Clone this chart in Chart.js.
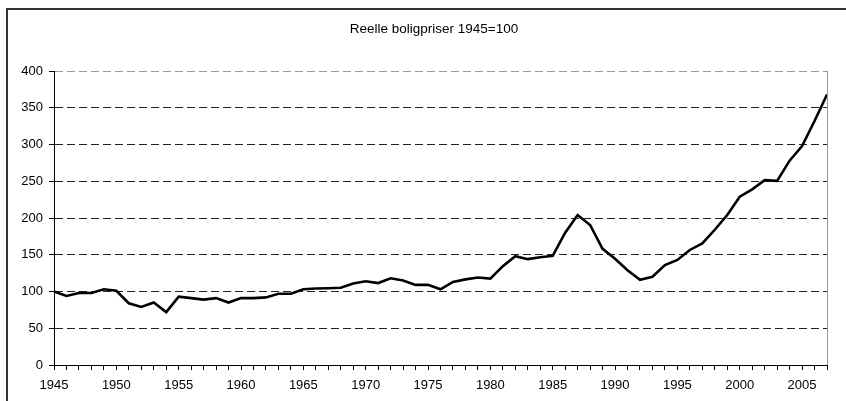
<!DOCTYPE html>
<html>
<head>
<meta charset="utf-8">
<script src="https://cdn.jsdelivr.net/npm/chart.js@4"></script>
<style>
  html, body { margin: 0; padding: 0; background: #fff; }
  #wrap { position: relative; width: 846px; height: 401px; overflow: hidden; }
  #frame { position: absolute; left: 6px; top: 8px; width: 900px; height: 500px; border: 2px solid #333; box-sizing: border-box; }
  canvas { position: absolute; left: 0; top: 0; }
</style>
</head>
<body>
<div id="wrap">
  <div id="frame"></div>
  <canvas id="c" width="846" height="401"></canvas>
</div>
<script>
const titleText = "Reelle boligpriser 1945=100";
const years = [];
for (let y = 1945; y <= 2007; y++) years.push(String(y));
const prices = [
  100, 94, 98, 98, 103, 101, 84, 79, 85, 72,
  93, 91, 89, 91, 85, 91, 91, 92, 97, 97,
  103, 104, 104.5, 105, 111, 114, 111.5, 118, 115, 109,
  109, 103, 113, 116.5, 119, 117.5, 134.5, 148, 144, 146.5,
  148.5, 180, 204, 190.5, 158, 144.5, 129, 116, 120, 136,
  143, 156.5, 165.5, 184, 204, 229, 239, 251.5, 250.5, 278,
  298, 332, 368
];
const yTicks = [0, 50, 100, 150, 200, 250, 300, 350, 400];
const labelEvery = 5;

const FONT = "'Liberation Sans', Arial, sans-serif";

const plotBorder = {
  id: 'plotBorder',
  afterDraw(chart) {
    const {ctx, chartArea: a} = chart;
    ctx.save();
    ctx.strokeStyle = '#999';
    ctx.lineWidth = 1;
    ctx.beginPath();
    ctx.moveTo(a.right + 0.5, a.top);
    ctx.lineTo(a.right + 0.5, a.bottom);
    ctx.stroke();
    ctx.restore();
  }
};

const frameTitle = {
  id: 'frameTitle',
  afterDraw(chart) {
    const ctx = chart.ctx;
    ctx.save();
    ctx.fillStyle = '#000';
    ctx.font = "13.5px " + FONT;
    ctx.textAlign = 'center';
    ctx.textBaseline = 'middle';
    ctx.fillText(titleText, 434, 29);
    ctx.restore();
  }
};

new Chart(document.getElementById('c'), {
  type: 'line',
  data: {
    labels: years,
    datasets: [{
      data: prices,
      borderColor: '#000',
      borderWidth: 2.6,
      pointRadius: 0,
      tension: 0,
      fill: false
    }]
  },
  options: {
    responsive: false,
    animation: false,
    layout: { padding: { left: 0, right: 19, top: 71, bottom: 0 } },
    plugins: {
      legend: { display: false },
      tooltip: { enabled: false },
      title: { display: false }
    },
    scales: {
      x: {
        type: 'category',
        offset: false,
        grid: {
          display: true,
          drawOnChartArea: false,
          drawTicks: true,
          tickLength: 5,
          color: '#000',
          lineWidth: 1
        },
        border: { display: true, color: '#000', width: 1 },
        ticks: {
          autoSkip: false,
          maxRotation: 0,
          color: '#000',
          padding: 8,
          font: { family: FONT, size: 13 },
          callback: function(val, idx) {
            const yr = Number(years[idx]);
            return (yr % labelEvery === 0) ? String(yr) : '';
          }
        },
        afterFit(scale) { scale.height = 36; }
      },
      y: {
        min: 0,
        max: 400,
        afterBuildTicks(scale) { scale.ticks = yTicks.map(v => ({ value: v })); },
        grid: {
          drawOnChartArea: true,
          drawTicks: true,
          tickLength: 5,
          lineWidth: 1,
          color: ctx => ctx.tick && ctx.tick.value === 400 ? '#999' : '#222',
          tickColor: '#000',
          tickBorderDash: []
        },
        border: { display: true, color: '#000', width: 1, dash: [8, 4] },
        ticks: {
          color: '#000',
          padding: 6,
          font: { family: FONT, size: 13 }
        },
        afterFit(scale) { scale.width = 54; }
      }
    }
  },
  plugins: [plotBorder, frameTitle]
});
</script>
</body>
</html>
